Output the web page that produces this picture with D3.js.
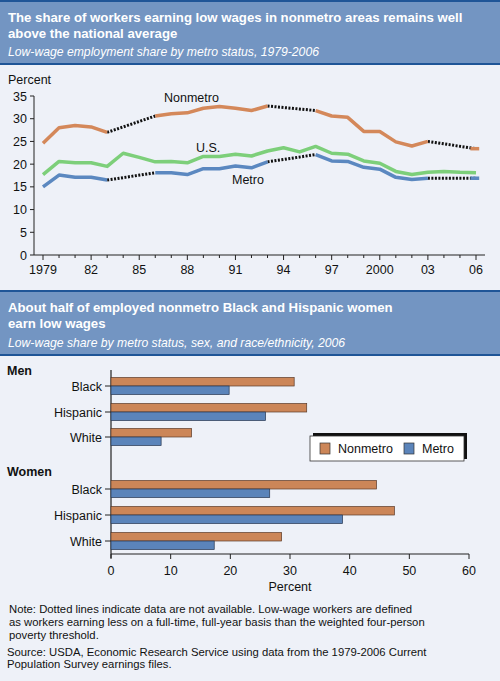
<!DOCTYPE html>
<html><head><meta charset="utf-8">
<script src="https://cdn.jsdelivr.net/npm/d3@7"></script>
<style>body{margin:0;background:#eef1f8}svg{display:block;font-family:"Liberation Sans",Arial,sans-serif}</style>
</head><body><svg id="c" width="500" height="681"></svg>
<script>
const years = d3.range(1979, 2007)
const nonmetro = [24.6,28,28.5,28.2,27,null,null,30.6,31.1,31.3,32.3,32.7,32.3,31.8,32.8,null,null,31.8,30.6,30.3,27.2,27.2,24.9,24,25,null,null,23.4]
const us = [17.7,20.6,20.3,20.3,19.5,22.4,21.5,20.5,20.6,20.3,21.7,21.7,22.2,21.8,22.9,23.6,22.7,23.9,22.4,22.2,20.7,20.2,18.4,17.7,18.2,18.4,18.2,18.1]
const metro = [15,17.6,17.1,17.1,16.5,null,null,18.1,18.1,17.7,19,19,19.6,19.2,20.5,null,null,22.1,20.7,20.6,19.3,18.9,17.1,16.6,16.9,null,null,16.9]
const yTicks = [0,5,10,15,20,25,30,35]
const xTickLabels = ["1979","82","85","88","91","94","97","2000","03","06"]

const groups = ["Men","Women"]
const races = ["Black","Hispanic","White"]
const barNonmetro = [30.7,32.8,13.5,44.5,47.5,28.6]
const barMetro = [19.8,25.9,8.4,26.6,38.8,17.3]

const svg = d3.select("#c")
const HEAD = "#7395c2", RULE = "#1f5597", BG = "#eef1f8"
svg.append("rect").attr("width",500).attr("height",681).attr("fill",BG)

function header(y0, y1, lines, sub) {
  svg.append("rect").attr("x",0).attr("y",y0).attr("width",500).attr("height",y1-y0).attr("fill",HEAD)
  svg.append("rect").attr("x",0).attr("y",y0-1).attr("width",500).attr("height",2).attr("fill",RULE)
  svg.append("rect").attr("x",0).attr("y",y1-1).attr("width",500).attr("height",2).attr("fill",RULE)
  lines.forEach((t,i)=>svg.append("text").attr("x",8).attr("y",y0+21+i*16).attr("fill","#fff")
    .attr("font-weight","bold").attr("font-size",13.2).text(t))
  svg.append("text").attr("x",8).attr("y",y1-8).attr("fill","#fff").attr("font-style","italic")
    .attr("font-size",12.2).text(sub)
}
header(1,64,["The share of workers earning low wages in nonmetro areas remains well","above the national average"],"Low-wage employment share by metro status, 1979-2006")
header(291,355,["About half of employed nonmetro Black and Hispanic women","earn low wages"],"Low-wage share by metro status, sex, and race/ethnicity, 2006")

// line chart
const x = d3.scaleLinear().domain([1979,2006]).range([43,476])
const y = d3.scaleLinear().domain([0,35]).range([255,96])
const g = svg.append("g").attr("font-size",12.5).attr("fill","#111")
g.append("line").attr("x1",34).attr("x2",34).attr("y1",96).attr("y2",255).attr("stroke","#222")
g.append("line").attr("x1",34).attr("x2",485).attr("y1",255).attr("y2",255).attr("stroke","#222")
g.selectAll(".yt").data(yTicks).enter().append("line").attr("x1",30).attr("x2",34)
  .attr("y1",d=>y(d)).attr("y2",d=>y(d)).attr("stroke","#222")
g.selectAll(".yl").data(yTicks).enter().append("text").attr("x",27).attr("y",d=>y(d)+4.5)
  .attr("text-anchor","end").text(d=>d)
g.selectAll(".xt").data(years).enter().append("line").attr("x1",d=>x(d)).attr("x2",d=>x(d))
  .attr("y1",255).attr("y2",d=>(d-1979)%3===0?260:258).attr("stroke","#222")
g.selectAll(".xl").data(xTickLabels).enter().append("text").attr("x",(d,i)=>x(1979+3*i))
  .attr("y",274).attr("text-anchor","middle").text(d=>d)
g.append("text").attr("x",8).attr("y",84).text("Percent")

function series(vals, color) {
  const pts = years.map((yr,i)=>[yr,vals[i]])
  const line = d3.line().x(d=>x(d[0])).y(d=>y(d[1]))
  // dotted gaps
  const known = pts.filter(d=>d[1]!=null)
  for (let i=1;i<known.length;i++) if (known[i][0]-known[i-1][0]>1)
    svg.append("path").attr("d",line([known[i-1],known[i]])).attr("fill","none")
      .attr("stroke","#111").attr("stroke-width",3).attr("stroke-dasharray","2,1.5")
  // solid runs
  let run = []
  const flush = () => {
    if (run.length===1) run = [[run[0][0]-0.35,run[0][1]],[run[0][0]+0.2,run[0][1]]]
    if (run.length) svg.append("path").attr("d",line(run)).attr("fill","none")
      .attr("stroke",color).attr("stroke-width",3.5).attr("stroke-linejoin","round")
    run = []
  }
  pts.forEach(d=>{ if (d[1]==null) flush(); else run.push(d) })
  flush()
}
series(us,"#7dcf7a")
series(nonmetro,"#d4885a")
series(metro,"#5b88c0")
g.append("text").attr("x",164).attr("y",102).text("Nonmetro")
g.append("text").attr("x",196).attr("y",152).text("U.S.")
g.append("text").attr("x",232).attr("y",184).text("Metro")

// bar chart
const bx = d3.scaleLinear().domain([0,60]).range([111,469])
const rowY = [386,412,437,489,515,541]
const bh = 8.5
const b = svg.append("g").attr("font-size",12.5).attr("fill","#111")
b.append("line").attr("x1",111).attr("x2",111).attr("y1",370).attr("y2",558).attr("stroke","#222").attr("stroke-width",1.2)
b.append("line").attr("x1",111).attr("x2",469).attr("y1",554).attr("y2",554).attr("stroke","#222").attr("stroke-width",1.2)
b.selectAll(".bt").data(d3.range(0,61,10)).enter().append("line").attr("x1",d=>bx(d)).attr("x2",d=>bx(d))
  .attr("y1",554).attr("y2",559).attr("stroke","#222")
b.selectAll(".bl").data(d3.range(0,61,10)).enter().append("text").attr("x",d=>bx(d)).attr("y",575)
  .attr("text-anchor","middle").text(d=>d)
b.append("text").attr("x",bx(30)).attr("y",591).attr("text-anchor","middle").text("Percent")
const labels = groups.flatMap(()=>races)
b.selectAll(".rt").data(rowY).enter().append("line").attr("x1",105).attr("x2",111)
  .attr("y1",d=>d).attr("y2",d=>d).attr("stroke","#222")
b.selectAll(".rl").data(labels).enter().append("text").attr("x",102).attr("y",(d,i)=>rowY[i]+4.5)
  .attr("text-anchor","end").text(d=>d)
groups.forEach((t,i)=>b.append("text").attr("x",7).attr("y",[375,476][i]).attr("font-weight","bold").text(t))
b.selectAll(".bn").data(barNonmetro).enter().append("rect").attr("x",bx(0)).attr("y",(d,i)=>rowY[i]-bh)
  .attr("width",d=>bx(d)-bx(0)).attr("height",bh).attr("fill","#cc8658").attr("stroke","#5a3a28").attr("stroke-width",0.7)
b.selectAll(".bm").data(barMetro).enter().append("rect").attr("x",bx(0)).attr("y",(d,i)=>rowY[i])
  .attr("width",d=>bx(d)-bx(0)).attr("height",bh).attr("fill","#5b84ba").attr("stroke","#26364f").attr("stroke-width",0.7)

// legend
svg.append("rect").attr("x",313).attr("y",433).attr("width",154).attr("height",26).attr("fill","#111")
svg.append("rect").attr("x",310).attr("y",436).attr("width",154).attr("height",25).attr("fill","#fff").attr("stroke","#333").attr("stroke-width",0.8)
;[["Nonmetro","#cc8658",320],["Metro","#5b84ba",404]].forEach(([t,c,lx])=>{
  svg.append("rect").attr("x",lx).attr("y",443).attr("width",10).attr("height",11).attr("fill",c).attr("stroke","#333").attr("stroke-width",0.7)
  svg.append("text").attr("x",lx+18).attr("y",453).attr("font-size",12.5).attr("fill","#111").text(t)
})

// notes
const notes = [[9,613,"Note: Dotted lines indicate data are not available. Low-wage workers are defined"],
  [9,626,"as workers earning less on a full-time, full-year basis than the weighted four-person"],
  [9,639,"poverty threshold."],
  [7,656,"Source:  USDA, Economic Research Service using data from the 1979-2006 Current"],
  [7,668,"Population Survey earnings files."]]
svg.selectAll(".nt").data(notes).enter().append("text").attr("x",d=>d[0]).attr("y",d=>d[1])
  .attr("font-size",11.3).attr("fill","#111").text(d=>d[2])
</script></body></html>
